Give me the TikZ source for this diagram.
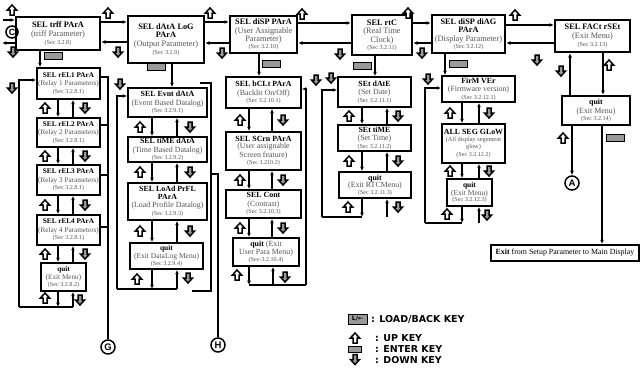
\documentclass[tikz,border=0pt]{standalone}
\usepackage{fontspec}
\setmainfont{Liberation Serif}
\setsansfont{Liberation Sans}
\newfontfamily\legfont{DejaVu Sans}
\usetikzlibrary{arrows.meta}
\definecolor{subg}{gray}{0.33}
\definecolor{keyg}{gray}{0.6}
\newcommand\btl[1]{{\bfseries #1}}
\newcommand\bsub[1]{{\color{subg}#1}}
\newcommand\bsc[1]{{\color{subg}\fontsize{6.1}{6.6}\selectfont #1}}
\begin{document}
\begin{tikzpicture}[x=1pt,y=-1pt,
  topbox/.style={draw, line width=2.4pt, fill=white, align=center, inner sep=0pt, font=\fontsize{8.3}{8.9}\selectfont},
  colbox/.style={draw, line width=1.8pt, fill=white, align=center, inner sep=0pt, font=\fontsize{7.9}{8.5}\selectfont},
  relbox/.style={colbox, font=\fontsize{7.2}{8.3}\selectfont},
  conn/.style={line width=1.2pt},
  arr/.style={conn, -{Latex[length=4.3pt,width=3.8pt]}},
  circ/.style={circle, draw, line width=1.5pt, minimum size=14pt, inner sep=0pt, font=\sffamily\bfseries\fontsize{9.5}{9.5}\selectfont},
  legtext/.style={anchor=west, inner sep=0pt, font=\legfont\bfseries\fontsize{9.5}{10}\selectfont},
  upk/.pic={\filldraw[fill=white, line width=1.5pt, line join=miter] (0,-5) -- (4.6,0) -- (2,0) -- (2,5) -- (-2,5) -- (-2,0) -- (-4.6,0) -- cycle;},
  dnk/.pic={\filldraw[fill=keyg, line width=1.5pt, line join=miter] (0,5) -- (4.6,0) -- (2,0) -- (2,-5) -- (-2,-5) -- (-2,0) -- (-4.6,0) -- cycle;},
  ent/.pic={\filldraw[fill=keyg, line width=1pt] (-9,-3.5) rectangle (9,3.5);},
  entsm/.pic={\filldraw[fill=keyg, line width=1pt] (-6.5,-3) rectangle (6.5,3);}
]
\useasboundingbox (0,0) rectangle (640,373);

% ---------- top row ----------
\node[topbox, minimum width=84pt, minimum height=33pt] (trff) at (58,33.5)
  {\btl{SEL trff PArA}\\\bsub{(triff Parameter)}\\[-1pt]\bsc{(Sec 3.2.8)}};
\node[topbox, minimum width=76pt, minimum height=47pt] (dlog) at (166,39.5)
  {\btl{SEL dAtA LoG}\\[-1pt]\btl{PArA}\\\bsub{(Output Parameter)}\\[-1pt]\bsc{(Sec 3.2.9)}};
\node[topbox, minimum width=67pt, minimum height=37pt] (disp) at (263.5,34.5)
  {\btl{SEL diSP PArA}\\\bsub{(User Assignable}\\[-0.5pt]\bsub{Parameter)}\\[-2pt]\bsc{(Sec 3.2.10)}};
\node[topbox, minimum width=60pt, minimum height=40pt] (rtc) at (382,35)
  {\btl{SEL rtC}\\\bsub{(Real Time}\\[-0.5pt]\bsub{Clock)}\\[-2pt]\bsc{(Sec 3.2.11)}};
\node[topbox, minimum width=73pt, minimum height=38pt] (diag) at (468.5,34)
  {\btl{SEL diSP diAG}\\[-1pt]\btl{PArA}\\\bsub{(Display Parameter)}\\[-2pt]\bsc{(Sec 3.2.12)}};
\node[topbox, minimum width=75pt, minimum height=32pt] (fact) at (592.5,36)
  {\btl{SEL FACt rSEt}\\\bsub{(Exit Menu)}\\[-1pt]\bsc{(Sec 3.2.13)}};

% ---------- column 1 ----------
\node[relbox, minimum width=63pt, minimum height=31pt] (rel1) at (68.5,83.5)
  {\btl{SEL rEL1 PArA}\\\bsub{(Relay 1 Parameters)}\\[-1pt]\bsc{(Sec 3.2.8.1)}};
\node[relbox, minimum width=63pt, minimum height=29pt] (rel2) at (68.5,132.5)
  {\btl{SEL rEL2 PArA}\\\bsub{(Relay 2 Parameters)}\\[-1pt]\bsc{(Sec 3.2.8.1)}};
\node[relbox, minimum width=63pt, minimum height=30pt] (rel3) at (68.5,180)
  {\btl{SEL rEL3 PArA}\\\bsub{(Relay 3 Parameters)}\\[-1pt]\bsc{(Sec 3.2.8.1)}};
\node[relbox, minimum width=63pt, minimum height=30pt] (rel4) at (68.5,230)
  {\btl{SEL rEL4 PArA}\\\bsub{(Relay 4 Parameters)}\\[-1pt]\bsc{(Sec 3.2.8.1)}};
\node[relbox, minimum width=45pt, minimum height=28pt] (q1) at (63.5,277)
  {\btl{quit}\\\bsub{(Exit Menu)}\\[-1pt]\bsc{(Sec 3.2.8.2)}};

% ---------- column 2 ----------
\node[colbox, minimum width=79pt, minimum height=29pt] (evnt) at (167.5,102.5)
  {\btl{SEL Evnt dAtA}\\\bsub{(Event Based Datalog)}\\[-1pt]\bsc{(Sec 3.2.9.1)}};
\node[colbox, minimum width=79pt, minimum height=25pt] (time) at (167.5,149.5)
  {\btl{SEL tiME dAtA}\\\bsub{(Time Based Datalog)}\\[-1.5pt]\bsc{(Sec 3.2.9.2)}};
\node[colbox, minimum width=79pt, minimum height=37pt] (load) at (167.5,201.5)
  {\btl{SEL LoAd PrFL}\\[-1pt]\btl{PArA}\\\bsub{(Load Profile Datalog)}\\[-0.5pt]\bsc{(Sec 3.2.9.3)}};
\node[colbox, minimum width=73pt, minimum height=26pt, font=\fontsize{7.5}{8.2}\selectfont] (q2) at (166.5,256)
  {\btl{quit}\\\bsub{(Exit DataLog Menu)}\\[-1.5pt]\bsc{(Sec 3.2.9.4)}};

% ---------- column 3 ----------
\node[colbox, minimum width=75pt, minimum height=31pt] (bclt) at (263.5,92.5)
  {\btl{SEL bCLt PArA}\\\bsub{(Backlit On/Off)}\\[-1pt]\bsc{(Sec 3.2.10.1)}};
\node[colbox, minimum width=75pt, minimum height=38pt] (scrn) at (263.5,151)
  {\btl{SEL SCrn PArA}\\[-1pt]\bsub{(User assignable}\\\bsub{Screen feature)}\\[-1pt]\bsc{(Sec 3.210.2)}};
\node[colbox, minimum width=75pt, minimum height=28pt] (cont) at (263.5,204)
  {\btl{SEL Cont}\\\bsub{(Contrast)}\\[-1pt]\bsc{(Sec 3.2.10.3)}};
\node[colbox, minimum width=66pt, minimum height=28pt] (q3) at (266,252)
  {\btl{quit} \bsub{(Exit}\\[-1pt]\bsub{User Para Menu)}\\[-1.5pt]\bsc{(Sec-3.2.10.4)}};

% ---------- column 4 ----------
\node[colbox, minimum width=73pt, minimum height=30pt] (sdate) at (374.5,92)
  {\btl{SEt dAtE}\\\bsub{(Set Date)}\\[-1pt]\bsc{(Sec 3.2.11.1)}};
\node[colbox, minimum width=73pt, minimum height=26pt] (stime) at (374.5,138)
  {\btl{SEt tiME}\\\bsub{(Set Time)}\\[-1pt]\bsc{(Sec 3.2.11.2)}};
\node[colbox, minimum width=72pt, minimum height=26pt] (q4) at (375,185)
  {\btl{quit}\\[-1pt]\bsub{(Exit RTCMenu)}\\[-2pt]\bsc{(Sec 3.2.11.3)}};

% ---------- column 5 ----------
\node[colbox, minimum width=73pt, minimum height=26pt] (firm) at (478.5,89)
  {\btl{FirM VEr}\\\bsub{(Firmware version)}\\[-1pt]\bsc{(Sec 3.2.12.1)}};
\node[colbox, minimum width=63pt, minimum height=39pt] (allseg) at (473.5,143.5)
  {\btl{ALL SEG GLoW}\\[-1pt]{\color{subg}\fontsize{6.3}{7}\selectfont (All display segement}\\[-2pt]{\color{subg}\fontsize{6.3}{7}\selectfont glow)}\\[-0.5pt]\bsc{(Sec 3.2.12.2)}};
\node[colbox, minimum width=45pt, minimum height=27pt, font=\fontsize{7.5}{8.2}\selectfont] (q5) at (469.5,192.5)
  {\btl{quit}\\\bsub{(Exit Menu)}\\[-1.5pt]\bsc{(Sec 3.2.12.3)}};

% ---------- column 6 ----------
\node[topbox, minimum width=68pt, minimum height=29pt, font=\fontsize{7.9}{8.6}\selectfont] (q6) at (596,110.5)
  {\btl{quit}\\\bsub{(Exit Menu)}\\[-1pt]\bsc{(Sec 3.2.14)}};
\node[draw, line width=1.9pt, fill=white, minimum width=148pt, minimum height=16pt, inner sep=0pt, font=\fontsize{7.9}{8}\selectfont] (exit) at (565,253)
  {\textbf{Exit} from Setup Parameter to Main Display};

% ---------- circles ----------
\node[circ, minimum size=12pt, font=\sffamily\bfseries\fontsize{9}{9}\selectfont] (copy) at (12,32) {C};
\node[circ] (G) at (108,347) {G};
\node[circ] (H) at (218,345) {H};
\node[circ] (A) at (572,183) {A};

% ---------- top row connectors ----------
\coordinate (lin) at (3,20);
\coordinate (lout) at (2,43);
\draw[arr] (lin) -- (trff.west |- lin);
\draw[arr] (trff.west |- lout) -- (lout);
\draw[arr] (trff.east |- 0,22) -- (dlog.west |- 0,22);
\draw[arr] (dlog.west |- 0,42) -- (trff.east |- 0,42);
\draw[arr] (dlog.east |- 0,22) -- (disp.west |- 0,22);
\draw[arr] (disp.west |- 0,43) -- (dlog.east |- 0,43);
\draw[arr] (disp.east |- 0,23) -- (rtc.west |- 0,23);
\draw[arr] (rtc.west |- 0,43) -- (disp.east |- 0,43);
\draw[arr] (rtc.east |- 0,23) -- (diag.west |- 0,23);
\draw[arr] (diag.west |- 0,43) -- (rtc.east |- 0,43);
\draw[arr] (diag.east |- 0,25) -- (fact.west |- 0,25);
\draw[arr] (fact.west |- 0,43) -- (diag.east |- 0,43);

% ---------- top to columns ----------
\draw[arr] (trff.south -| 40,0) -- (rel1.north -| 40,0);
\draw[arr] (dlog.south -| 172,0) -- (evnt.north -| 172,0);
\draw[arr] (disp.south -| 259,0) -- (bclt.north -| 259,0);
\draw[arr] (rtc.south -| 375,0) -- (sdate.north -| 375,0);
\draw[arr] (diag.south -| 445,0) -- (firm.north -| 445,0);
\draw[arr] (q6.north -| 570,0) -- (fact.south -| 570,0);
\draw[arr] (fact.south -| 603,0) -- (q6.north -| 603,0);
\draw[arr] (q6.south -| 572,0) -- (A.north);
\draw[arr] (q6.south -| 602,0) -- (exit.north -| 602,0);

% ---------- in-column connectors ----------
\foreach \a/\b in {rel1/rel2,rel2/rel3,rel3/rel4,rel4/q1}{
  \draw[arr] (\a.south -| 58,0) -- (\b.north -| 58,0);
  \draw[arr] (\b.north -| 73,0) -- (\a.south -| 73,0);}
\foreach \a/\b in {evnt/time,time/load,load/q2}{
  \draw[arr] (\a.south -| 152,0) -- (\b.north -| 152,0);
  \draw[arr] (\b.north -| 177,0) -- (\a.south -| 177,0);}
\foreach \a/\b in {bclt/scrn,scrn/cont,cont/q3}{
  \draw[arr] (\a.south -| 249,0) -- (\b.north -| 249,0);
  \draw[arr] (\b.north -| 272,0) -- (\a.south -| 272,0);}
\foreach \a/\b in {sdate/stime,stime/q4}{
  \draw[arr] (\a.south -| 362,0) -- (\b.north -| 362,0);
  \draw[arr] (\b.north -| 387,0) -- (\a.south -| 387,0);}
\foreach \a/\b in {firm/allseg,allseg/q5}{
  \draw[arr] (\a.south -| 462,0) -- (\b.north -| 462,0);
  \draw[arr] (\b.north -| 479,0) -- (\a.south -| 479,0);}

% ---------- loops ----------
\coordinate (c1l) at (19,307); \coordinate (c1d) at (58,307); \coordinate (c1u) at (73,307);
\draw[conn] (c1l) -- (c1u);
\draw[arr] (q1.south -| c1d) -- (c1d);
\draw[arr] (c1u) -- (q1.south -| c1u);
\draw[arr] (c1l) -- (19,80) -- (rel1.west |- 0,80);
\coordinate (c2l) at (117,289); \coordinate (c2d) at (152,289); \coordinate (c2u) at (177,289);
\draw[conn] (c2l) -- (c2u);
\draw[arr] (q2.south -| c2d) -- (c2d);
\draw[arr] (c2u) -- (q2.south -| c2u);
\draw[arr] (c2l) -- (117,96) -- (evnt.west |- 0,96);
\coordinate (c3r) at (306,285); \coordinate (c3d) at (249,285); \coordinate (c3u) at (273,285);
\draw[conn] (c3d) -- (c3r);
\draw[arr] (q3.south -| c3d) -- (c3d);
\draw[arr] (c3u) -- (q3.south -| c3u);
\draw[arr] (c3r) -- (306,89) -- (bclt.east |- 0,89);
\coordinate (c4l) at (322,217); \coordinate (c4d) at (362,217); \coordinate (c4u) at (387,217);
\draw[conn] (c4l) -- (c4d);
\draw[arr] (q4.south -| c4d) -- (c4d);
\draw[arr] (c4u) -- (q4.south -| c4u);
\draw[arr] (c4l) -- (322,90) -- (sdate.west |- 0,90);
\coordinate (c5l) at (425,223); \coordinate (c5d) at (462,223); \coordinate (c5u) at (479,223);
\draw[conn] (c5l) -- (c5d);
\draw[arr] (q5.south -| c5d) -- (c5d);
\draw[arr] (c5u) -- (q5.south -| c5u);
\draw[arr] (c5l) -- (425,88) -- (firm.west |- 0,88);

% ---------- G and H lines ----------
\draw[conn] (rel1.east |- 0,77) -- (108,77) -- (G.north);
\draw[conn] (rel2.east |- 0,125) -- (108,125);
\draw[conn] (rel3.east |- 0,175) -- (108,175);
\draw[conn] (rel4.east |- 0,227) -- (108,227);
\draw[conn] (200,83) -- (211,83) -- (211,291) -- (192,291);
\draw[conn] (211,174) -- (218,174) -- (H.north);

% ---------- key icons ----------
\foreach \p in {(12,10),(108,13),(210,13),(302,14),(408,13),(515,15),(609,65),(563,138),
  (45,108),(45,156),(45,205),(45,254),(45,298),
  (140,127),(140,172),(140,231),(137,279),
  (240,120),(240,180),(240,228),(237,275),
  (349,116),(349,161),(348,207),
  (450,113),(450,171),(447,214)}
  \pic at \p {upk};
\foreach \p in {(13,52),(118,52),(222,53),(340,54),(422,53),(537,60),(561,71),
  (12,88),(120,84),(316,80),(331,78),(428,79),
  (85,108),(85,156),(85,205),(85,254),(80,300),
  (190,127),(190,172),(190,231),(188,278),
  (283,120),(283,180),(283,228),(285,277),
  (398,116),(398,161),(398,207),
  (489,113),(489,171),(487,215)}
  \pic at \p {dnk};
\foreach \p in {(53.5,56),(156.5,66.5),(271,63.5),(362.5,66),(458,63.5),(615,137.5)}
  \pic at \p {ent};

% ---------- legend ----------
\node[draw, fill=keyg, line width=1pt, minimum width=19pt, minimum height=10pt, inner sep=0pt,
  font=\legfont\bfseries\fontsize{6}{6}\selectfont] (lkey) at (357.5,319) {L/←};
\node[legtext] (tload) at (371,319) {: LOAD/BACK KEY};
\pic at (355,338) {upk};
\node[legtext] (tup) at (375,338) {: UP KEY};
\pic at (355,349) {entsm};
\node[legtext] (tent) at (375,349.5) {: ENTER KEY};
\pic at (355,359.5) {dnk};
\node[legtext] (tdn) at (375,360) {: DOWN KEY};
\end{tikzpicture}
\end{document}
